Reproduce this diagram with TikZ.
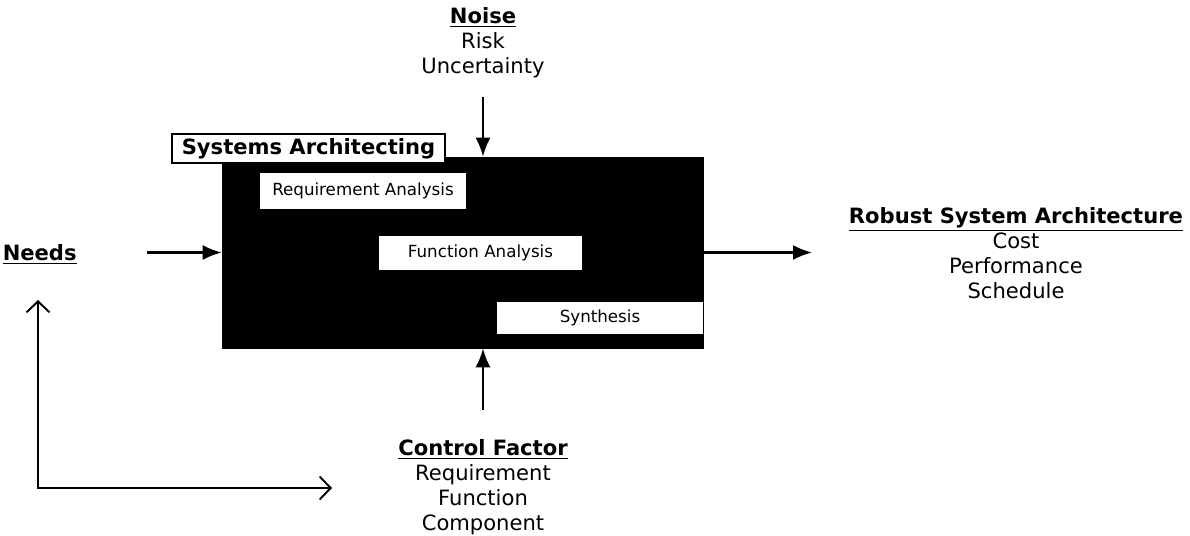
\documentclass[tikz,border=0pt]{standalone}
\usepackage{fontspec}
\setmainfont{DejaVu Sans}
\usetikzlibrary{arrows.meta}

\tikzset{
  blk/.style={fill=black,draw=black,inner sep=0pt},
  stage/.style={fill=white,draw=none,inner sep=0pt,font=\fontsize{9.5}{11}\selectfont},
  titlebox/.style={fill=white,draw=black,line width=1pt,inner sep=0pt,font=\fontsize{12}{14}\selectfont\bfseries},
  lbl/.style={align=center,inner sep=0pt,font=\fontsize{12}{14.2}\selectfont},
  arr/.style={-{Latex[length=3.8mm,width=3mm]},line width=1.2pt},
  fb/.style={{Straight Barb[length=2.2mm,width=4.6mm]}-{Straight Barb[length=2.2mm,width=4.6mm]},line width=1.1pt}
}

\begin{document}
\begin{tikzpicture}[x=0.02cm,y=-0.02cm]
    \useasboundingbox (0,0) rectangle (1190,535);
    % block and its stages
    \node[blk,minimum width=9.62cm,minimum height=3.82cm] (arch) at (462.5,252.5) {};
    \node[titlebox,minimum width=5.46cm,minimum height=0.58cm] (sa) at (308.5,148.5) {Systems Architecting};
    \node[stage,minimum width=4.12cm,minimum height=0.72cm] (req) at (363,191) {Requirement Analysis};
    \node[stage,minimum width=4.06cm,minimum height=0.68cm] (fun) at (480.5,253) {Function Analysis};
    \node[stage,minimum width=4.12cm,minimum height=0.64cm] (syn) at (600,318) {Synthesis};

    % labels round the block
    \node[lbl] (noise) at (483,43) {\underline{\textbf{Noise}}\\Risk\\Uncertainty};
    \node[lbl,anchor=east] (needs) at (77,254) {\underline{\textbf{Needs}}};
    \node[lbl] (rsa) at (1016,253) {\underline{\textbf{Robust System Architecture}}\\Cost\\Performance\\Schedule};
    \node[lbl] (ctrl) at (483,487) {\underline{\textbf{Control Factor}}\\Requirement\\Function\\Component};

    \coordinate (nz) at (483,97);
    \coordinate (cf) at (483,410);
    \coordinate (nd) at (147,252.5);
    \coordinate (out) at (812,252.5);
    \coordinate (fbu) at (38,300);
    \coordinate (fbr) at (332,488);

    \draw[arr] (nz) -- (nz |- arch.north);
    \draw[arr] (cf) -- (cf |- arch.south);
    \draw[arr] (nd) -- (arch.west);
    \draw[arr] (arch.east) -- (out);
    \draw[fb] (fbu) |- (fbr);
\end{tikzpicture}
\end{document}
